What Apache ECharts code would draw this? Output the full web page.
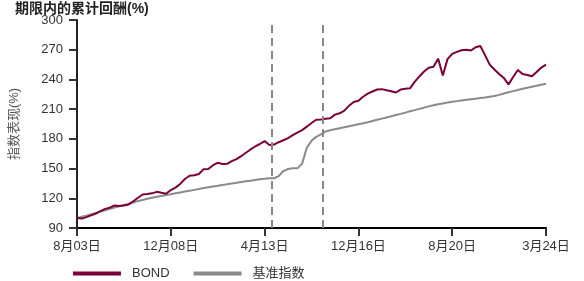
<!DOCTYPE html>
<html>
<head>
<meta charset="utf-8">
<script src="https://cdn.jsdelivr.net/npm/echarts@6/dist/echarts.min.js"></script>
<style>
  html, body { margin: 0; padding: 0; background: #fff; }
  #chart { width: 584px; height: 281px; }
</style>
</head>
<body>
<div id="chart"></div>
<script>
// x runs over 101 evenly spaced observations, labelled every 20th
const tickLabels = ['8月03日', '12月08日', '4月13日', '12月16日', '8月20日', '3月24日']
const seriesNames = ['BOND', '基准指数']

const bondValues = [
  100, 99.5, 101, 102.8, 104.5, 107, 109.3, 110.5, 112.8, 112.3,
  112.8, 113.8, 117, 120.5, 123.8, 124.3, 125, 126.5, 125.5, 124.5,
  128.3, 130.8, 134.5, 139.5, 142.8, 143.2, 144.5, 149.4, 149.6, 153.4,
  155.8, 154.6, 154.8, 157.5, 159.6, 162.5, 166, 169.3, 172.3, 174.8,
  177.8, 173.8, 174.2, 176.6, 178.6, 180.8, 183.8, 186.3, 188.8, 192.3,
  196, 199.3, 199.5, 200.3, 200.8, 204.5, 205.8, 208.5, 213.5, 217.3,
  218.5, 222.5, 225.6, 227.8, 229.8, 230.2, 229, 228, 226.8, 229.8,
  230.5, 231, 237.5, 243, 248, 251.8, 252.8, 261, 244, 260.5,
  265.8, 267.8, 269.5, 270, 269.2, 272.5, 273.8, 264.5, 255, 250,
  245.5, 241.5, 235, 242.5, 249.5, 245.5, 244.5, 243.2, 247.5, 252,
  255
]

const benchmarkValues = [
  100, 101.3, 102.5, 103.8, 105.2, 106.6, 108, 109.3, 110.7, 112,
  113.2, 114.3, 115.8, 117.2, 118.3, 119.5, 120.5, 121.5, 122.4, 123.3,
  124.1, 125, 125.9, 126.8, 127.6, 128.5, 129.4, 130.3, 131.1, 131.9,
  132.6, 133.4, 134.1, 134.9, 135.6, 136.4, 137.1, 137.8, 138.5, 139.2,
  139.7, 140.3, 140.2, 142.3, 147.5, 149.6, 150.4, 150.2, 155, 171,
  178, 182, 184.5, 187.5, 188.6, 189.8, 190.8, 191.8, 192.8, 193.8,
  194.8, 195.8, 196.8, 198, 199.2, 200.4, 201.6, 202.8, 204, 205.2,
  206.5, 207.8, 209, 210.3, 211.5, 212.8, 214, 215, 215.8, 216.6,
  217.4, 218.1, 218.8, 219.4, 220, 220.6, 221.2, 221.8, 222.6, 223.3,
  224.4, 225.8, 227, 228.2, 229.4, 230.5, 231.5, 232.6, 233.6, 234.6,
  235.6
]

// observation positions of the two event markers
const eventMarks = [41.5, 52.5]

const toPairs = (arr) => arr.map((v, i) => [i, v])
const lastIndex = bondValues.length - 1
const labelStep = lastIndex / (tickLabels.length - 1)

const chart = echarts.init(document.getElementById('chart'))

chart.setOption({
  animation: false,
  textStyle: {
    fontFamily: '"Liberation Sans", Arial, "Noto Sans CJK SC", sans-serif',
  },
  title: {
    text: '期限内的累计回酬(%)',
    left: 10,
    top: -3,
    textStyle: { fontSize: 14, fontWeight: 'bold', color: '#222' },
  },
  legend: {
    left: 68,
    top: 262,
    itemWidth: 48,
    itemHeight: 4,
    itemGap: 24,
    icon: 'rect',
    textStyle: { fontSize: 13, color: '#333', padding: [0, 0, 0, 6] },
    data: seriesNames,
  },
  grid: {
    left: 72.7,
    right: 38,
    top: 20,
    bottom: 53,
  },
  xAxis: {
    type: 'value',
    min: 0,
    max: lastIndex,
    interval: labelStep,
    axisLine: { lineStyle: { color: '#000', width: 2 } },
    axisTick: { length: 8, lineStyle: { color: '#333', width: 2 } },
    axisLabel: {
      fontSize: 13,
      color: '#333',
      margin: 12,
      formatter: (v) => tickLabels[Math.round(v / labelStep)] || '',
    },
    splitLine: { show: false },
  },
  yAxis: {
    type: 'value',
    min: 90,
    max: 300,
    interval: 30,
    name: '指数表现(%)',
    nameLocation: 'middle',
    nameGap: 56,
    nameTextStyle: { fontSize: 13, color: '#555' },
    axisLine: { show: true, lineStyle: { color: '#222', width: 2 } },
    axisTick: { show: true, length: 8, lineStyle: { color: '#333', width: 2 } },
    axisLabel: { fontSize: 13, color: '#333', margin: 14 },
    splitLine: { show: false },
  },
  series: [
    {
      name: seriesNames[0],
      type: 'line',
      data: toPairs(bondValues),
      showSymbol: false,
      color: '#7a0038',
      lineStyle: { width: 2 },
      z: 3,
    },
    {
      name: seriesNames[1],
      type: 'line',
      data: toPairs(benchmarkValues),
      showSymbol: false,
      color: '#8a8a8a',
      lineStyle: { width: 2 },
      z: 2,
      markLine: {
        silent: true,
        symbol: 'none',
        label: { show: false },
        lineStyle: { color: '#888', width: 2, type: [8, 5] },
        data: eventMarks.map(x => ({ xAxis: x })),
      },
    },
  ],
})
</script>
</body>
</html>
